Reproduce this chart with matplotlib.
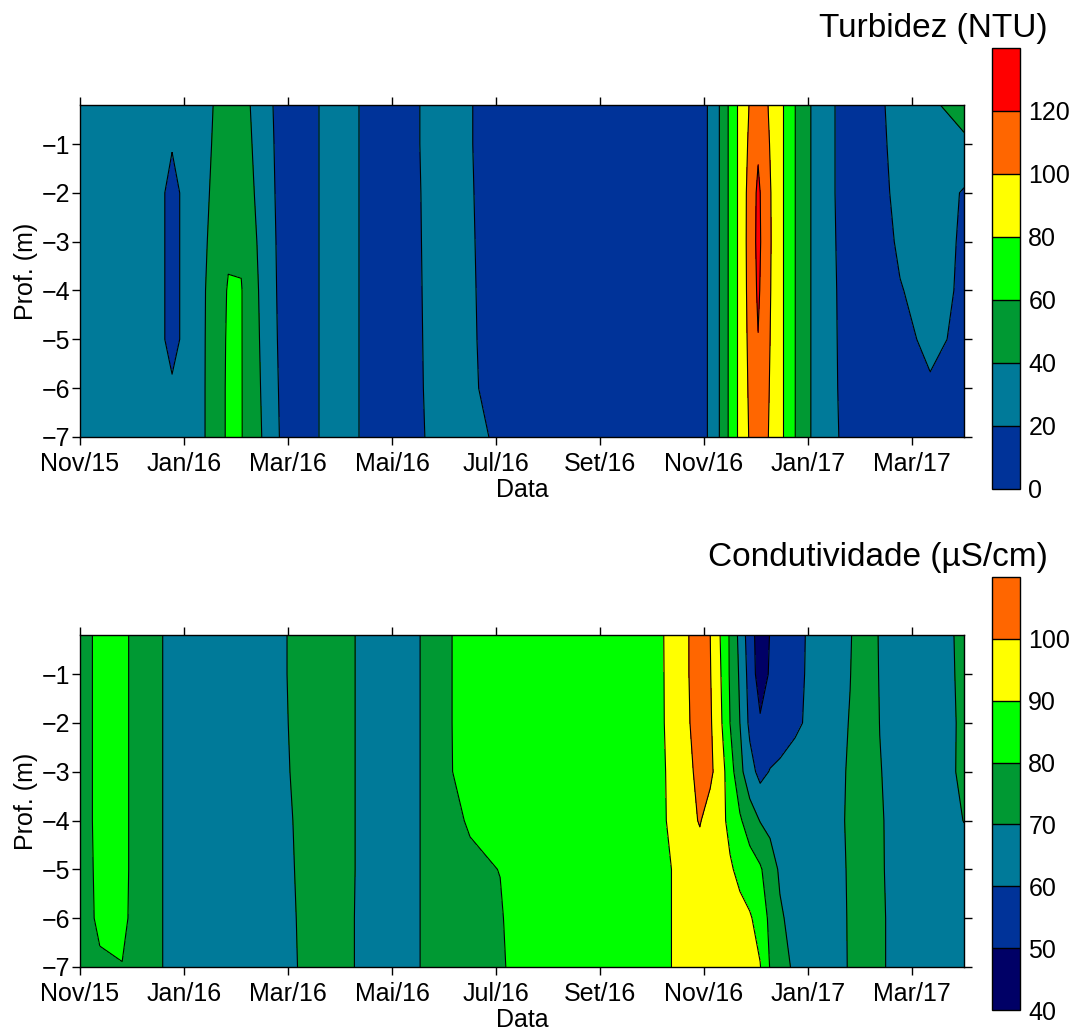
import numpy as np
import matplotlib.pyplot as plt

plt.rcParams['font.family'] = ['Liberation Sans', 'DejaVu Sans']
plt.rcParams['font.size'] = 18

# profundidades amostradas (m)
prof = [0.2, 1, 2, 3, 4, 5, 6, 7]

# eixo x: meses desde Nov/2015
meses_ticks = [0, 2, 4, 6, 8, 10, 12, 14, 16]
rotulos = ['Nov/15', 'Jan/16', 'Mar/16', 'Mai/16', 'Jul/16', 'Set/16',
           'Nov/16', 'Jan/17', 'Mar/17']

# ---- Turbidez (NTU): um perfil por data ----
t_turb = [0.00, 1.35, 1.77, 2.21, 2.85, 3.10, 3.56, 3.90, 4.23, 4.96, 5.77,
          6.15, 6.92, 7.50, 8.08, 10.00, 11.92, 12.21, 12.38, 12.55, 12.72,
          13.04, 13.39, 13.63, 13.88, 14.23, 14.81, 15.29, 15.77, 16.35,
          17.00]
turbidez = [
    [30, 30, 30, 30, 30, 30, 30, 30],
    [30, 30, 30, 30, 30, 30, 30, 30],
    [28, 21, 15, 15, 15, 15, 22, 28],
    [30, 30, 30, 30, 30, 30, 30, 30],
    [48.3, 50, 53, 57, 61.5, 62.5, 63, 63],
    [47.2, 49, 52, 57, 61, 61, 61, 61],
    [28, 29, 30, 31, 32, 33.5, 35, 36.5],
    [10, 11, 12, 13, 13.5, 14, 15, 16],
    [10, 10, 10, 10, 10, 10, 10, 10],
    [30, 30, 30, 30, 30, 30, 30, 30],
    [10, 10, 10, 10, 10, 10, 10, 10],
    [10, 10, 10, 10, 10, 10, 10, 10],
    [30, 30, 29, 28.5, 28, 27.5, 27, 26],
    [21, 21, 21.5, 22, 22.5, 23, 24, 30],
    [10, 10, 10, 10, 10, 10, 10, 14],
    [10, 10, 10, 10, 10, 10, 10, 10],
    [10, 10, 10, 10, 10, 10, 10, 10],
    [30, 30, 30, 30, 30, 30, 30, 30],
    [50, 50, 50, 50, 50, 50, 50, 50],
    [70, 70, 70, 70, 70, 70, 70, 70],
    [90, 90, 90, 90, 90, 90, 90, 90],
    [112, 117, 124, 125, 123, 119.5, 116, 113],
    [90, 90, 90, 90, 90, 90, 90, 90],
    [70, 70, 70, 70, 70, 70, 70, 70],
    [50, 50, 50, 50, 50, 50, 50, 50],
    [30, 30, 30, 30, 30, 30, 30, 30],
    [10, 10, 10, 11, 12, 12.5, 13, 14],
    [10, 10, 10, 10, 10, 10, 10, 10],
    [35, 31, 27, 23, 19, 15, 11, 10],
    [37, 36, 33, 30, 27, 24, 18, 12],
    [47, 37, 18, 17, 17, 16, 10, 10],
]
niveis_turb = [0, 20, 40, 60, 80, 100, 120, 140]
cores_turb = ['#003399', '#007a99', '#009933', '#00ff00', '#ffff00',
              '#ff6600', '#ff0000']

# ---- Condutividade (uS/cm): um perfil por data ----
t_cond = [0.00, 0.38, 0.81, 1.06, 1.35, 1.83, 3.27, 4.62, 5.00, 5.58, 6.25,
          6.83, 7.50, 8.08, 8.46, 10.96, 11.54, 11.73, 11.92, 12.12, 12.31,
          12.50, 12.69, 12.88, 13.08, 13.27, 13.46, 13.75, 14.04, 14.42,
          14.81, 15.08, 15.38, 16.06, 16.73, 17.00]
condutividade = [
    [75, 75, 75, 75, 75, 75, 75, 75],
    [83, 83, 83, 83, 83, 82.5, 82, 78.5],
    [85, 85, 85, 85, 85, 85, 84, 79.5],
    [75, 75, 75, 75, 75, 75, 75, 75],
    [75, 75, 75, 75, 75, 75, 75, 75],
    [65, 65, 65, 65, 65, 65, 65, 65],
    [65, 65, 65, 65, 65, 65, 65, 65],
    [74.5, 74.5, 74.2, 73.8, 73.2, 72.9, 72.6, 72.4],
    [75, 75, 75, 75, 75, 75, 75, 75],
    [65, 65, 65, 65, 65, 65, 64.5, 64.5],
    [65, 65, 65, 65, 65, 65, 65, 65],
    [75, 75, 75, 75, 75, 75, 75, 75],
    [85.3, 85.3, 85.3, 85, 81, 78, 77, 76],
    [85, 85, 85, 85, 85, 80.2, 79, 78],
    [85, 85, 85, 85, 85, 85, 85, 85],
    [85, 85, 85, 85, 85, 85, 85, 85],
    [95.9, 95.7, 95.5, 94.6, 94.2, 92, 92, 92],
    [100.5, 100.5, 100, 98.75, 97.9, 94, 94, 94],
    [106, 106, 104.5, 102.5, 100.6, 96, 95.5, 95.3],
    [100, 100.5, 101.25, 102, 96.1, 94.3, 96, 95.8],
    [90, 91, 92.2, 95, 92.5, 92.6, 94.7, 95.4],
    [78.9, 79, 80, 84.5, 88, 90.9, 93.4, 94.1],
    [67.1, 68.6, 70, 72.9, 81.3, 88.2, 92.2, 92.9],
    [54.4, 55.9, 57.75, 63.8, 75, 84.7, 90.9, 91.6],
    [44.9, 45, 51.2, 57, 69.6, 81.2, 86.7, 90.4],
    [50.3, 51.1, 53.25, 60.5, 67.4, 74.5, 77.5, 79.5],
    [53.1, 53.7, 55.3, 61.75, 65.2, 68.7, 71.25, 74.2],
    [57.4, 57.7, 58.4, 63.6, 63.6, 64.4, 66.75, 68.2],
    [61.2, 61.3, 61.6, 65.5, 65.5, 64.5, 63, 64.3],
    [65.3, 65.5, 66, 67.8, 68.1, 67.6, 66.9, 66.4],
    [69.4, 69.8, 70.4, 70.6, 70.7, 70.6, 70.6, 70.6],
    [75, 75, 75, 75, 75, 75, 75, 75],
    [69.4, 69.6, 69.9, 70.3, 70.6, 70.6, 70.8, 70.8],
    [65, 65, 65, 65, 65.5, 66, 66, 66],
    [69.2, 69.2, 69.2, 69.3, 68.8, 67.4, 66.7, 66.7],
    [72, 71.5, 71, 71, 70.1, 68, 67, 67],
]
niveis_cond = [40, 50, 60, 70, 80, 90, 100, 110]
cores_cond = ['#000066', '#003399', '#007a99', '#009933', '#00ff00',
              '#ffff00', '#ff6600']

fig = plt.figure(figsize=(10.73, 10.34), dpi=100)


def painel(rect, cax_rect, t, perfis, niveis, cores, titulo, y_titulo):
    ax = fig.add_axes(rect)
    Y = -np.array(prof)
    Z = np.array(perfis).T
    cf = ax.contourf(t, Y, Z, levels=niveis, colors=cores)
    ax.contour(t, Y, Z, levels=niveis, colors='black', linewidths=0.8)
    ax.set_xlim(0, 17)
    ax.set_ylim(-7, -0.2)
    ax.set_xticks(meses_ticks)
    ax.set_xticklabels(rotulos)
    ax.set_yticks([-1, -2, -3, -4, -5, -6, -7])
    ax.tick_params(direction='out', top=True, right=True, length=6,
                   width=1, labelsize=18)
    ax.tick_params(axis='x', pad=5)
    ax.tick_params(axis='y', pad=1)
    for s in ax.spines.values():
        s.set_linewidth(1)
    ax.set_xlabel('Data', labelpad=1)
    ax.set_ylabel('Prof. (m)', labelpad=3)

    cax = fig.add_axes(cax_rect)
    cb = fig.colorbar(cf, cax=cax, drawedges=True, ticks=niveis[:-1])
    cb.ax.tick_params(length=0, labelsize=18, pad=6)
    cb.outline.set_linewidth(1)
    cb.dividers.set_color('black')
    cb.dividers.set_linewidth(1)
    fig.text(0.9767, y_titulo, titulo, ha='right', va='center', fontsize=24)


painel([0.0746, 0.5774, 0.8238, 0.3211], [0.9245, 0.5271, 0.0261, 0.4265],
       t_turb, turbidez, niveis_turb, cores_turb, 'Turbidez (NTU)', 0.972)
painel([0.0746, 0.0648, 0.8238, 0.3211], [0.9245, 0.0232, 0.0261, 0.4188],
       t_cond, condutividade, niveis_cond, cores_cond,
       'Condutividade (\u00b5S/cm)', 0.461)

fig.savefig('out.png', dpi=100)
